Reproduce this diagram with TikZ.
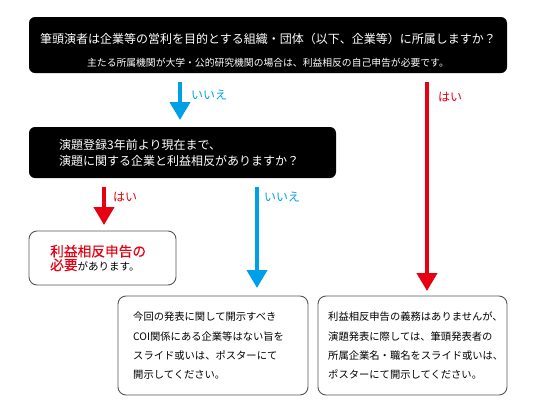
\documentclass[tikz,border=0pt]{standalone}
\usepackage{fontspec}
\setmainfont{Noto Sans CJK JP}
\newfontfamily\medjp[FakeBold=0.25]{Noto Sans CJK JP}
\usetikzlibrary{arrows.meta}
\definecolor{jblue}{RGB}{0,160,233}
\definecolor{jred}{RGB}{230,0,18}
\definecolor{boxline}{RGB}{85,85,85}
\tikzset{
  blackbox/.style={fill=black, rounded corners=6pt, inner sep=0pt},
  whitebox/.style={draw=boxline, line width=0.9pt, rounded corners=8pt, fill=white, inner sep=0pt},
  wtext/.style={text=white, inner sep=0pt},
  btext/.style={text=black, inner sep=0pt, align=left, anchor=west},
  bluearrow/.style={draw=jblue, line width=4pt, -{Triangle[width=20pt,length=18pt]}},
  redarrow/.style={draw=jred, line width=4pt, -{Triangle[width=20pt,length=18pt]}},
  bluelabel/.style={text=jblue, inner sep=0pt, font=\fontsize{12}{14}\selectfont},
  redlabel/.style={text=jred, inner sep=0pt, font=\fontsize{12}{14}\selectfont},
}
\begin{document}
\begin{tikzpicture}[x=1pt,y=-1pt]
\useasboundingbox (0,0) rectangle (550,405);
% top question
\node[blackbox, minimum width=478pt, minimum height=56pt] (q1) at (268,45) {};
\node[wtext, font=\fontsize{12}{14}\selectfont] (q1t) at (268,39) {筆頭演者は企業等の営利を目的とする組織・団体（以下、企業等）に所属しますか？};
\node[wtext, font=\fontsize{9.8}{12}\selectfont] (q1s) at (268,63) {主たる所属機関が大学・公的研究機関の場合は、利益相反の自己申告が必要です。};
% second question
\node[blackbox, minimum width=307pt, minimum height=51pt] (q2) at (182.5,152.5) {};
\node[wtext, align=left, anchor=west, font=\fontsize{12}{16.5}\selectfont] (q2t) at (59,153) {演題登録3年前より現在まで、\\演題に関する企業と利益相反がありますか？};
% result boxes
\node[whitebox, minimum width=147pt, minimum height=54pt] (r1) at (102.5,258) {};
\node[btext] (r1t) at (50,258) {{\medjp\fontsize{13.7}{18}\selectfont\color{jred}利益相反申告の}\\{\medjp\fontsize{13.7}{18}\selectfont\color{jred}必要}{\fontsize{10.5}{18}\selectfont があります。}};
\node[whitebox, minimum width=190pt, minimum height=99pt] (r2) at (213,345.5) {};
\node[btext, font=\fontsize{10.3}{19.3}\selectfont] (r2t) at (133,346) {今回の発表に関して開示すべき\\COI関係にある企業等はない旨を\\スライド或いは、ポスターにて\\開示してください。};
\node[whitebox, minimum width=189pt, minimum height=99pt] (r3) at (412.5,345.5) {};
\node[btext, font=\fontsize{10.3}{19.3}\selectfont] (r3t) at (328,346) {利益相反申告の義務はありませんが、\\演題発表に際しては、筆頭発表者の\\所属企業名・職名をスライド或いは、\\ポスターにて開示してください。};
% connectors
\coordinate (a1s) at (180,82);
\coordinate (a1e) at (180,120);
\coordinate (a2s) at (427,82);
\coordinate (a2e) at (427,291);
\coordinate (a3s) at (104,187);
\coordinate (a3e) at (104,225);
\coordinate (a4s) at (257,187);
\coordinate (a4e) at (257,288);
\draw[bluearrow] (a1s) -- (a1e);
\draw[redarrow] (a2s) -- (a2e);
\draw[redarrow] (a3s) -- (a3e);
\draw[bluearrow] (a4s) -- (a4e);
\node[bluelabel] (l1) at (209,95) {いいえ};
\node[redlabel] (l2) at (450,97) {はい};
\node[redlabel] (l3) at (125,197) {はい};
\node[bluelabel] (l4) at (282,197) {いいえ};
\end{tikzpicture}
\end{document}
